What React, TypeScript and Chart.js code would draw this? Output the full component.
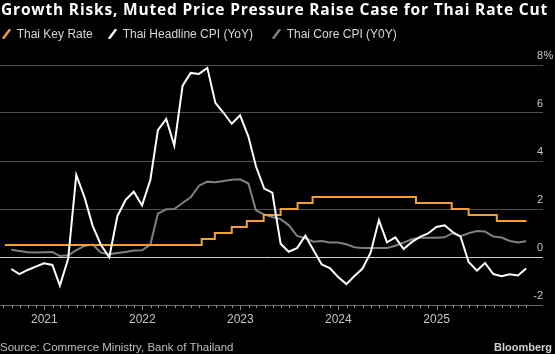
import React, { useEffect, useLayoutEffect, useRef, useState } from 'react';
import { Chart, registerables } from 'chart.js';
Chart.register(...registerables);

// ---------- data ----------
const months = [
  '2020-08', '2020-09', '2020-10', '2020-11', '2020-12',
  '2021-01', '2021-02', '2021-03', '2021-04', '2021-05', '2021-06', '2021-07', '2021-08', '2021-09', '2021-10', '2021-11', '2021-12',
  '2022-01', '2022-02', '2022-03', '2022-04', '2022-05', '2022-06', '2022-07', '2022-08', '2022-09', '2022-10', '2022-11', '2022-12',
  '2023-01', '2023-02', '2023-03', '2023-04', '2023-05', '2023-06', '2023-07', '2023-08', '2023-09', '2023-10', '2023-11', '2023-12',
  '2024-01', '2024-02', '2024-03', '2024-04', '2024-05', '2024-06', '2024-07', '2024-08', '2024-09', '2024-10', '2024-11', '2024-12',
  '2025-01', '2025-02', '2025-03', '2025-04', '2025-05', '2025-06', '2025-07', '2025-08', '2025-09', '2025-10', '2025-11',
];

const headlineCPI = [
  -0.50, -0.71, -0.54, -0.40, -0.26,
  -0.33, -1.19, -0.06, 3.42, 2.48, 1.30, 0.50, -0.01, 1.70, 2.38, 2.72, 2.15,
  3.22, 5.29, 5.75, 4.64, 7.14, 7.67, 7.63, 7.88, 6.42, 6.00, 5.55, 5.90,
  5.02, 3.78, 2.85, 2.68, 0.55, 0.22, 0.37, 0.89, 0.29, -0.31, -0.46, -0.83,
  -1.13, -0.80, -0.48, 0.18, 1.54, 0.61, 0.82, 0.33, 0.62, 0.84, 0.98, 1.25,
  1.32, 1.05, 0.85, -0.21, -0.57, -0.25, -0.71, -0.80, -0.72, -0.77, -0.48,
];

const coreCPI = [
  0.30, 0.25, 0.20, 0.19, 0.20,
  0.21, 0.04, 0.07, 0.29, 0.46, 0.52, 0.18, 0.12, 0.17, 0.21, 0.27, 0.28,
  0.52, 1.81, 1.99, 2.00, 2.25, 2.49, 2.97, 3.14, 3.11, 3.17, 3.22, 3.24,
  3.06, 1.95, 1.77, 1.67, 1.58, 1.33, 0.88, 0.78, 0.64, 0.67, 0.60, 0.60,
  0.53, 0.41, 0.37, 0.37, 0.37, 0.37, 0.47, 0.60, 0.74, 0.80, 0.80, 0.80,
  0.82, 0.99, 0.87, 0.99, 1.08, 1.06, 0.85, 0.81, 0.67, 0.60, 0.66,
];

const rateDates = [
  '2020-08-07', '2022-08-10', '2022-09-28', '2022-11-30', '2023-01-25', '2023-03-29', '2023-05-31',
  '2023-08-02', '2023-09-27', '2024-10-16', '2025-02-26', '2025-04-30', '2025-08-13', '2025-12-02',
];
const rateValues = [0.5, 0.75, 1.0, 1.25, 1.5, 1.75, 2.0, 2.25, 2.5, 2.25, 2.0, 1.75, 1.5, 1.5];

const yTicks = [-2, 0, 2, 4, 6, 8];
const yearTicks = ['2021', '2022', '2023', '2024', '2025'];
const firstTickMonth = '2020-08';
const lastTickMonth = '2025-12';

const TITLE = 'Growth Risks, Muted Price Pressure Raise Case for Thai Rate Cut';
const SOURCE = 'Source: Commerce Ministry, Bank of Thailand';
const legendItems = [
  { label: 'Thai Key Rate', color: '#F0A035', left: 16.7 },
  { label: 'Thai Headline CPI (YoY)', color: '#FFFFFF', left: 122.7 },
  { label: 'Thai Core CPI (Y0Y)', color: '#808080', left: 286.7 },
];

// ---------- helpers ----------
const DAY = 86400000;
const ORIGIN = Date.UTC(2021, 0, 1);
const dayOf = (y: number, m0: number, d: number) => (Date.UTC(y, m0, d) - ORIGIN) / DAY;
const monthEnd = (ym: string) => {
  const [y, m] = ym.split('-').map(Number);
  return dayOf(y, m, 0);
};
const dateDay = (s: string) => {
  const [y, m, d] = s.split('-').map(Number);
  return dayOf(y, m - 1, d);
};

const FONT = '"Liberation Sans", Arial, sans-serif';
const TITLE_FONT = '"Open Sans", "Liberation Sans", Arial, sans-serif';
const TITLE_WIDTH = 547;
const W = 555;
const H = 354;

const decorPlugin = {
  id: 'decor',
  afterDraw(chart: any) {
    const { ctx, chartArea } = chart;
    const xs = chart.scales.x;
    const ys = chart.scales.y;
    ctx.save();
    const bottom = chartArea.bottom;
    const [fy, fm] = firstTickMonth.split('-').map(Number);
    const [ly, lm] = lastTickMonth.split('-').map(Number);
    ctx.strokeStyle = '#8c8c8c';
    ctx.lineWidth = 1;
    let y = fy, m = fm;
    while (y < ly || (y === ly && m <= lm)) {
      const px = Math.round(xs.getPixelForValue(dayOf(y, m - 1, 1))) + 0.5;
      const len = m === 1 ? 5 : 3;
      ctx.beginPath();
      ctx.moveTo(px, bottom);
      ctx.lineTo(px, bottom + len);
      ctx.stroke();
      m++;
      if (m > 12) { m = 1; y++; }
    }
    ctx.fillStyle = '#c4c4c4';
    ctx.font = `12px ${FONT}`;
    ctx.textAlign = 'center';
    ctx.textBaseline = 'alphabetic';
    yearTicks.forEach((yr) => {
      const px = xs.getPixelForValue(dayOf(Number(yr), 0, 1));
      ctx.fillText(yr, px, bottom + 18.3);
    });
    ctx.font = `11px ${FONT}`;
    ctx.fillStyle = '#c8c8c8';
    ctx.textBaseline = 'middle';
    const rightX = chartArea.right;
    yTicks.forEach((v) => {
      const py = ys.getPixelForValue(v) - 9;
      ctx.textAlign = 'right';
      ctx.fillText(String(v), rightX, py);
      if (v === yTicks[yTicks.length - 1]) {
        ctx.textAlign = 'left';
        ctx.fillText('%', rightX + 0.5, py);
      }
    });
    ctx.restore();
  },
};

function ChartCanvas() {
  const ref = useRef<HTMLCanvasElement | null>(null);
  useEffect(() => {
    if (!ref.current) return;
    const chart = new Chart(ref.current, {
      type: 'line',
      data: {
        datasets: [
          {
            label: 'Thai Headline CPI (YoY)',
            data: months.map((m, i) => ({ x: monthEnd(m), y: headlineCPI[i] })),
            borderColor: '#FFFFFF',
            borderWidth: 2,
            pointRadius: 0,
            tension: 0,
          },
          {
            label: 'Thai Key Rate',
            data: rateDates.map((d, i) => ({ x: dateDay(d), y: rateValues[i] })),
            borderColor: '#F0A035',
            borderWidth: 2,
            pointRadius: 0,
            stepped: true,
          },
          {
            label: 'Thai Core CPI (Y0Y)',
            data: months.map((m, i) => ({ x: monthEnd(m), y: coreCPI[i] })),
            borderColor: '#808080',
            borderWidth: 2,
            pointRadius: 0,
            tension: 0,
          },
        ],
      },
      options: {
        animation: false,
        responsive: false,
        events: [],
        layout: { padding: { left: 0, right: W - 543, top: 65, bottom: H - 305 } },
        plugins: { legend: { display: false }, tooltip: { enabled: false }, title: { display: false } },
        scales: {
          x: { type: 'linear', min: -165, max: 1857, display: false },
          y: {
            type: 'linear',
            position: 'right',
            min: -2,
            max: 8,
            afterBuildTicks: (s: any) => { s.ticks = yTicks.map((v) => ({ value: v })); },
            afterFit: (s: any) => { s.width = 0; },
            ticks: { display: false },
            border: { display: false },
            grid: {
              drawTicks: false,
              lineWidth: 1,
              color: (c: any) => (c.tick && c.tick.value === 0 ? '#cfcfcf' : c.tick && c.tick.value === -2 ? '#6a6a6a' : '#4f4f4f'),
            },
          },
        },
      },
      plugins: [decorPlugin],
    } as any);
    return () => chart.destroy();
  }, []);
  return <canvas ref={ref} width={W} height={H} style={{ position: 'absolute', left: 0, top: 0, width: W, height: H, display: 'block' }} />;
}

function Title() {
  const ref = useRef<HTMLSpanElement | null>(null);
  const [spacing, setSpacing] = useState(0);
  useLayoutEffect(() => {
    if (!ref.current) return;
    const w = ref.current.getBoundingClientRect().width;
    const s = (TITLE_WIDTH - w) / TITLE.length;
    setSpacing(s);
  }, []);
  return (
    <div style={{ position: 'absolute', left: 1, top: 1.5, fontSize: 15.5, lineHeight: '15.5px', fontWeight: 700, color: '#fff', whiteSpace: 'nowrap', fontFamily: TITLE_FONT }}>
      <span ref={ref} style={{ letterSpacing: spacing ? `${spacing}px` : undefined }}>{TITLE}</span>
    </div>
  );
}

export default function App() {
  useEffect(() => {
    document.body.style.margin = '0';
    document.body.style.background = '#000';
  }, []);
  return (
    <div style={{ position: 'fixed', left: 0, top: 0, width: W, height: H, background: '#000', overflow: 'hidden', fontFamily: FONT }}>
      <ChartCanvas />
      <Title />
      {legendItems.map((it) => (
        <div key={it.label} style={{ position: 'absolute', left: it.left - 15, top: 27.5, height: 14, whiteSpace: 'nowrap', fontSize: 12, lineHeight: '12px', color: '#d6d6d6' }}>
          <svg width={9} height={10} style={{ position: 'absolute', left: 0, top: 1 }}>
            <line x1={1.5} y1={9} x2={7.5} y2={1} stroke={it.color} strokeWidth={2.4} strokeLinecap="round" />
          </svg>
          <span style={{ position: 'absolute', left: 15, top: 0 }}>{it.label}</span>
        </div>
      ))}
      <div style={{ position: 'absolute', left: 0, top: 341.5, fontSize: 11.5, lineHeight: '11.5px', color: '#bdbdbd', whiteSpace: 'nowrap' }}>{SOURCE}</div>
      <div style={{ position: 'absolute', right: 3, top: 341.5, fontSize: 11, lineHeight: '11.5px', fontWeight: 700, color: '#d0d0d0', whiteSpace: 'nowrap' }}>Bloomberg</div>
    </div>
  );
}
